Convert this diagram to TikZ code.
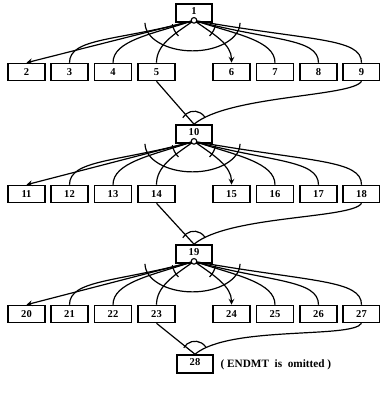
\documentclass[tikz,border=0pt]{standalone}
\usepackage{fontspec}
\setmainfont{Liberation Serif}
\tikzset{
  stage/.style={draw, line width=1.1pt, minimum width=0.9cm, minimum height=0.45cm,
    inner sep=0pt, text height=5pt, text depth=2.5pt, font=\fontsize{7.5}{9}\selectfont\bfseries},
  task/.style={draw, line width=1.1pt, minimum width=0.925cm, minimum height=0.425cm,
    inner sep=0pt, font=\fontsize{7.5}{9}\selectfont\bfseries},
  port/.style={circle, draw, fill=white, line width=0.8pt, inner sep=0pt, minimum size=0.14cm},
}

\begin{document}
\begin{tikzpicture}[x=0.025cm, y=0.025cm, >=stealth, line width=0.85pt]
\useasboundingbox (0,0) rectangle (380,-394);

%%% first stage
\node[stage] (n1) at (194,-13) {1};
\node[port] (p1) at ([yshift=0.06cm]n1.south) {};
\node[task] (n2) at (26.5,-72) {2};
\node[task] (n3) at (69.5,-72) {3};
\node[task] (n4) at (113,-72) {4};
\node[task] (n5) at (156.5,-72) {5};
\node[task] (n6) at (231.5,-72) {6};
\node[task] (n7) at (275,-72) {7};
\node[task] (n8) at (318.5,-72) {8};
\node[task] (n9) at (361.5,-72) {9};
%% fan out
\draw[->] (p1) -- (n2.north);
\draw (p1) .. controls +(195:80) and +(90:25) .. (n3.north);
\draw (p1) .. controls +(198:45) and +(90:22) .. (n4.north);
\draw (p1) .. controls +(215:25) and +(90:18) .. (n5.north);
\draw[->] (p1) .. controls +(-35:25) and +(90:18) .. (n6.north);
\draw (p1) .. controls +(-18:45) and +(90:22) .. (n7.north);
\draw (p1) .. controls +(-15:80) and +(90:25) .. (n8.north);
\draw (p1) .. controls +(-10:120) and +(90:25) .. (n9.north);
%% crossing marks
\draw ([shift={(-49,-2.5)}]p1.center) arc[start angle=180, end angle=360, x radius=47.5, y radius=28];
\draw ([shift={(190:22)}]p1.center) arc[start angle=190, end angle=225, radius=22];
\draw ([shift={(-10:22)}]p1.center) arc[start angle=-10, end angle=-45, radius=22];

%%% second stage
\node[stage] (n10) at (194,-134) {10};
\node[port] (p10) at ([yshift=0.06cm]n10.south) {};
%% join
\draw (n5.south) -- (n10.north);
\draw (n9.south) .. controls +(-120:18) and +(40:45) .. (n10.north);
\draw ([shift={(150:13)}]n10.north) arc[start angle=150, end angle=30, radius=13];
\node[task] (n11) at (26.5,-194) {11};
\node[task] (n12) at (69.5,-194) {12};
\node[task] (n13) at (113,-194) {13};
\node[task] (n14) at (156.5,-194) {14};
\node[task] (n15) at (231.5,-194) {15};
\node[task] (n16) at (275,-194) {16};
\node[task] (n17) at (318.5,-194) {17};
\node[task] (n18) at (361.5,-194) {18};
%% fan out
\draw[->] (p10) -- (n11.north);
\draw (p10) .. controls +(195:80) and +(90:25) .. (n12.north);
\draw (p10) .. controls +(198:45) and +(90:22) .. (n13.north);
\draw (p10) .. controls +(215:25) and +(90:18) .. (n14.north);
\draw[->] (p10) .. controls +(-35:25) and +(90:18) .. (n15.north);
\draw (p10) .. controls +(-18:45) and +(90:22) .. (n16.north);
\draw (p10) .. controls +(-15:80) and +(90:25) .. (n17.north);
\draw (p10) .. controls +(-10:120) and +(90:25) .. (n18.north);
%% crossing marks
\draw ([shift={(-49,-2.5)}]p10.center) arc[start angle=180, end angle=360, x radius=47.5, y radius=28];
\draw ([shift={(190:22)}]p10.center) arc[start angle=190, end angle=225, radius=22];
\draw ([shift={(-10:22)}]p10.center) arc[start angle=-10, end angle=-45, radius=22];

%%% third stage
\node[stage] (n19) at (194,-254) {19};
\node[port] (p19) at ([yshift=0.06cm]n19.south) {};
%% join
\draw (n14.south) -- (n19.north);
\draw (n18.south) .. controls +(-120:18) and +(40:45) .. (n19.north);
\draw ([shift={(150:13)}]n19.north) arc[start angle=150, end angle=30, radius=13];
\node[task] (n20) at (26.5,-314) {20};
\node[task] (n21) at (69.5,-314) {21};
\node[task] (n22) at (113,-314) {22};
\node[task] (n23) at (156.5,-314) {23};
\node[task] (n24) at (231.5,-314) {24};
\node[task] (n25) at (275,-314) {25};
\node[task] (n26) at (318.5,-314) {26};
\node[task] (n27) at (361.5,-314) {27};
%% fan out
\draw[->] (p19) -- (n20.north);
\draw (p19) .. controls +(195:80) and +(90:25) .. (n21.north);
\draw (p19) .. controls +(198:45) and +(90:22) .. (n22.north);
\draw (p19) .. controls +(215:25) and +(90:18) .. (n23.north);
\draw[->] (p19) .. controls +(-35:25) and +(90:18) .. (n24.north);
\draw (p19) .. controls +(-18:45) and +(90:22) .. (n25.north);
\draw (p19) .. controls +(-15:80) and +(90:25) .. (n26.north);
\draw (p19) .. controls +(-10:120) and +(90:25) .. (n27.north);
%% crossing marks
\draw ([shift={(-49,-2.5)}]p19.center) arc[start angle=180, end angle=360, x radius=47.5, y radius=28];
\draw ([shift={(190:22)}]p19.center) arc[start angle=190, end angle=225, radius=22];
\draw ([shift={(-10:22)}]p19.center) arc[start angle=-10, end angle=-45, radius=22];

%%% end node
\node[stage] (n28) at (195,-364) {28};
\draw (n23.south) -- (n28.north);
\draw (n27.south) .. controls +(-120:18) and +(40:45) .. (n28.north);
\draw ([shift={(150:13)}]n28.north) arc[start angle=150, end angle=30, radius=13];
\node[anchor=west, inner sep=0pt, font=\fontsize{8}{10}\selectfont\bfseries] (note) at (220,-365) {( ENDMT \ is \ omitted )};

\end{tikzpicture}
\end{document}
